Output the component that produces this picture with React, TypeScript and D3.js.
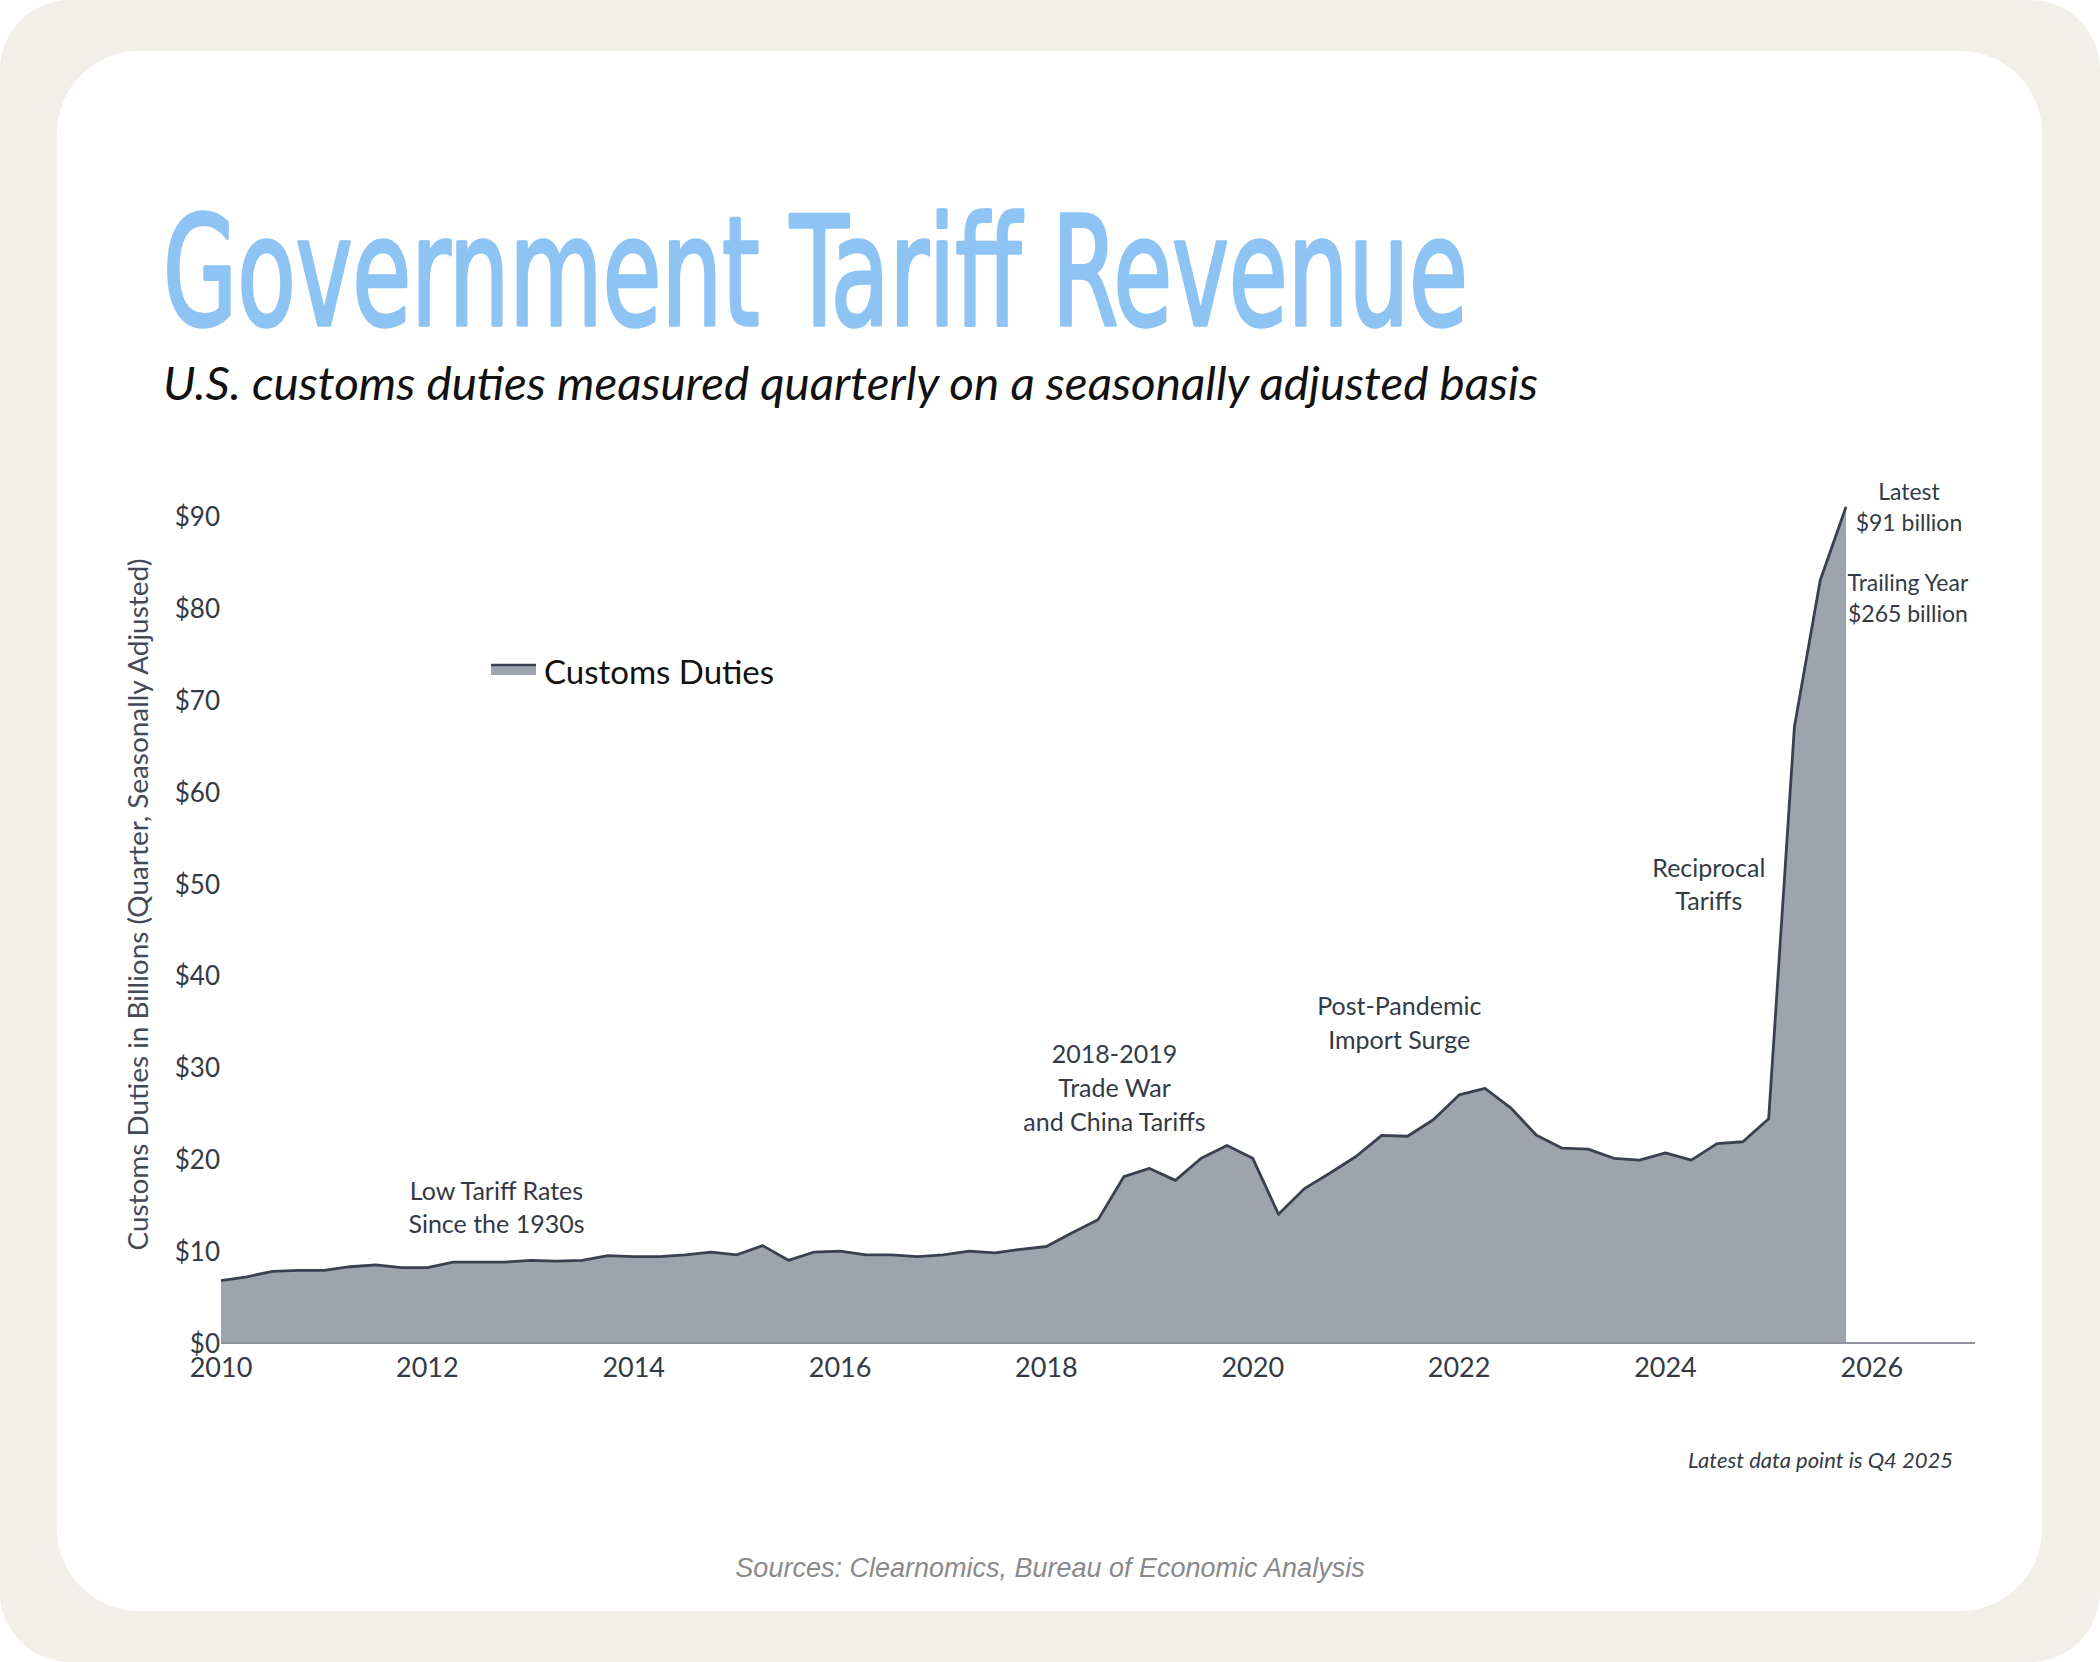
import React, { useEffect, useRef } from 'react';
import * as d3 from 'd3';

// Quarterly customs duties, $ billions (seasonally adjusted), 2010 Q1 – 2025 Q4
const startYear = 2010;
const customsDuties = [
  6.8, 7.2, 7.8, 7.9,
  7.9, 8.3, 8.5, 8.2,
  8.2, 8.8, 8.8, 8.8,
  9.0, 8.9, 9.0, 9.5,
  9.4, 9.4, 9.6, 9.9,
  9.6, 10.6, 9.0, 9.9,
  10.0, 9.6, 9.6, 9.4,
  9.6, 10.0, 9.8, 10.2,
  10.5, 12.0, 13.4, 18.1,
  19.0, 17.7, 20.1, 21.5,
  20.1, 14.0, 16.8, 18.5,
  20.3, 22.6, 22.5, 24.3,
  27.0, 27.7, 25.6, 22.6,
  21.2, 21.1, 20.1, 19.9,
  20.7, 19.9, 21.7, 21.9,
  24.4, 67.1, 83.0, 91.0,
];
const yearTicks = [2010, 2012, 2014, 2016, 2018, 2020, 2022, 2024, 2026];
const valueTicks = [0, 10, 20, 30, 40, 50, 60, 70, 80, 90];

interface Note {
  lines: string[];
  year: number;
  value: number;
  size: number;
  gap: number;
}

// annotation anchors in data space (centre of the text block)
const notes: Note[] = [
  { lines: ['Low Tariff Rates', 'Since the 1930s'], year: 2012.67, value: 14.9, size: 25, gap: 33 },
  { lines: ['2018-2019', 'Trade War', 'and China Tariffs'], year: 2018.66, value: 27.9, size: 25, gap: 34 },
  { lines: ['Post-Pandemic', 'Import Surge'], year: 2021.42, value: 34.9, size: 25, gap: 34 },
  { lines: ['Reciprocal', 'Tariffs'], year: 2024.42, value: 50.0, size: 25, gap: 33 },
  { lines: ['Latest', '$91 billion'], year: 2026.36, value: 91.0, size: 23, gap: 31 },
  { lines: ['Trailing Year', '$265 billion'], year: 2026.35, value: 81.1, size: 23, gap: 31 },
];

const W = 2100;
const H = 1662;

const App: React.FC = () => {
  const svgRef = useRef<SVGSVGElement>(null);

  useEffect(() => {
    if (!svgRef.current) return;
    const svg = d3.select(svgRef.current);
    svg.selectAll('*').remove();

    const data = customsDuties.map((v, i) => ({ t: startYear + i / 4, v }));

    const x = d3.scaleLinear().domain([2010, 2027]).range([221, 1975]);
    const y = d3.scaleLinear().domain([0, 90]).range([1343, 516]);

    // Background frame
    svg.append('rect').attr('width', W).attr('height', H).attr('fill', '#ffffff');
    svg
      .append('rect')
      .attr('width', W)
      .attr('height', H)
      .attr('rx', 70)
      .attr('fill', '#f2efea');
    svg
      .append('rect')
      .attr('x', 57)
      .attr('y', 51)
      .attr('width', 1985)
      .attr('height', 1560)
      .attr('rx', 82)
      .attr('fill', '#ffffff');

    // Title + subtitle (regular weight, thickened a little with a stroke)
    svg
      .append('text')
      .attr('x', 163)
      .attr('y', 325)
      .attr('textLength', 1305)
      .attr('lengthAdjust', 'spacingAndGlyphs')
      .style('font-family', '"Liberation Sans Narrow", "DejaVu Sans Condensed", Roboto, sans-serif')
      .style('font-size', '152px')
      .style('fill', '#8ec4f3')
      .style('stroke', '#8ec4f3')
      .style('stroke-width', '3.5px')
      .style('stroke-linejoin', 'round')
      .text('Government Tariff Revenue');

    svg
      .append('text')
      .attr('x', 163)
      .attr('y', 400)
      .attr('textLength', 1375)
      .attr('lengthAdjust', 'spacingAndGlyphs')
      .style('font-family', 'Lato, "Open Sans", sans-serif')
      .style('font-style', 'italic')
      .style('font-size', '46px')
      .style('fill', '#111111')
      .text('U.S. customs duties measured quarterly on a seasonally adjusted basis');

    const g = svg.append('g');

    // Area + top line
    const area = d3
      .area<{ t: number; v: number }>()
      .x((d) => x(d.t))
      .y0(y(0))
      .y1((d) => y(d.v));
    const line = d3
      .line<{ t: number; v: number }>()
      .x((d) => x(d.t))
      .y((d) => y(d.v));

    g.append('path').attr('d', area(data) as string).attr('fill', '#9ea3ae');
    g.append('path')
      .attr('d', line(data) as string)
      .attr('fill', 'none')
      .attr('stroke', '#3a4050')
      .attr('stroke-width', 2.8)
      .attr('stroke-linejoin', 'round');

    // x axis line
    g.append('line')
      .attr('x1', x(2010))
      .attr('x2', x(2027))
      .attr('y1', y(0))
      .attr('y2', y(0))
      .attr('stroke', '#8d929c')
      .attr('stroke-width', 2);

    const tickFont = 'Lato, "Source Sans Pro", "Open Sans", sans-serif';

    g.selectAll('.xt')
      .data(yearTicks)
      .enter()
      .append('text')
      .attr('x', (d) => x(d))
      .attr('y', y(0) + 23)
      .attr('text-anchor', 'middle')
      .attr('dominant-baseline', 'central')
      .style('font-family', tickFont)
      .style('font-size', '27px')
      .style('fill', '#333a45')
      .text((d) => String(d));

    g.selectAll('.yt')
      .data(valueTicks)
      .enter()
      .append('text')
      .attr('x', 220)
      .attr('y', (d) => y(d))
      .attr('text-anchor', 'end')
      .attr('dominant-baseline', 'central')
      .style('font-family', tickFont)
      .style('font-size', '26px')
      .style('fill', '#333a45')
      .text((d) => `$${d}`);

    // y axis title
    svg
      .append('text')
      .attr('transform', `translate(137,${(y(0) + y(90)) / 2 - 25}) rotate(-90)`)
      .attr('text-anchor', 'middle')
      .attr('dominant-baseline', 'central')
      .attr('textLength', 692)
      .attr('lengthAdjust', 'spacingAndGlyphs')
      .style('font-family', tickFont)
      .style('font-size', '27px')
      .style('fill', '#444a55')
      .text('Customs Duties in Billions (Quarter, Seasonally Adjusted)');

    // Legend
    const lg = svg.append('g').attr('transform', 'translate(491,664)');
    lg.append('rect').attr('width', 45).attr('height', 11).attr('fill', '#9ea3ae');
    lg.append('line')
      .attr('x1', 0)
      .attr('x2', 45)
      .attr('y1', 1)
      .attr('y2', 1)
      .attr('stroke', '#3a4050')
      .attr('stroke-width', 2.5);
    lg.append('text')
      .attr('x', 53)
      .attr('y', 7)
      .attr('dominant-baseline', 'central')
      .style('font-family', tickFont)
      .style('font-size', '33px')
      .style('fill', '#111111')
      .text('Customs Duties');

    // Annotations
    notes.forEach((n) => {
      const cx = x(n.year);
      const cy = y(n.value);
      const t = svg
        .append('text')
        .attr('text-anchor', 'middle')
        .style('font-family', tickFont)
        .style('font-size', `${n.size}px`)
        .style('fill', '#333a45');
      n.lines.forEach((l, i) => {
        t.append('tspan')
          .attr('x', cx)
          .attr('y', cy + (i - (n.lines.length - 1) / 2) * n.gap)
          .attr('dominant-baseline', 'central')
          .text(l);
      });
    });

    // Footnotes
    svg
      .append('text')
      .attr('x', 1953)
      .attr('y', 1468)
      .attr('text-anchor', 'end')
      .style('font-family', tickFont)
      .style('font-style', 'italic')
      .style('font-size', '22px')
      .style('fill', '#333a45')
      .text('Latest data point is Q4 2025');

    svg
      .append('text')
      .attr('x', 1050)
      .attr('y', 1577)
      .attr('text-anchor', 'middle')
      .style('font-family', '"Liberation Sans", Arial, sans-serif')
      .style('font-style', 'italic')
      .style('font-size', '27px')
      .style('fill', '#8a8a8a')
      .text('Sources: Clearnomics, Bureau of Economic Analysis');
  }, []);

  return (
    <svg
      ref={svgRef}
      width={W}
      height={H}
      style={{ position: 'absolute', left: 0, top: 0, display: 'block' }}
    />
  );
};

export default App;
